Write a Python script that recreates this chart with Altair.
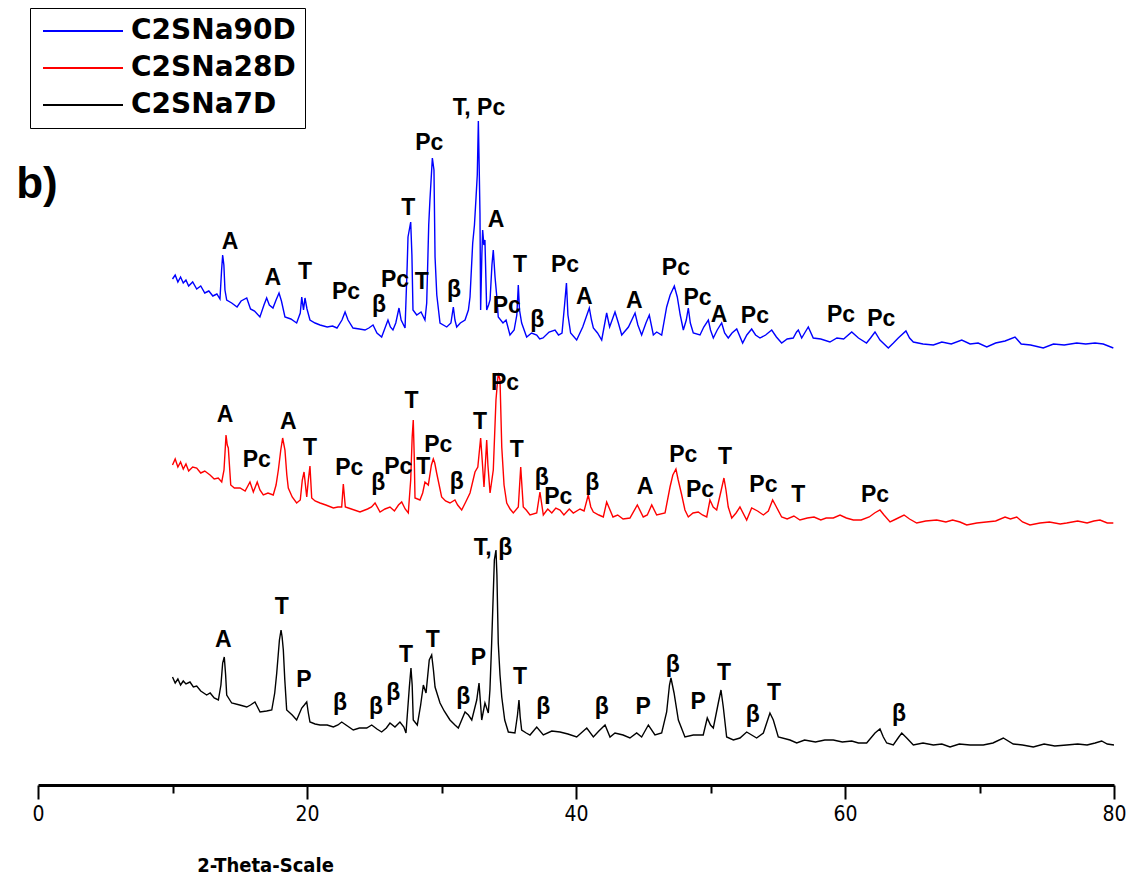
import altair as alt
import pandas as pd

series_names = ["C2SNa90D", "C2SNa28D", "C2SNa7D"]
series_colors = ["#0000ff", "#ff0000", "#000000"]

# ---- C2SNa90D (blue, top) ----
tt_90 = [10.0, 10.2, 10.4, 10.6, 10.8, 11.0, 11.2, 11.5, 11.8, 12.1, 12.4, 12.7, 13.0, 13.3, 13.53, 13.65, 13.73, 13.82, 13.9, 14.03,
         14.4, 14.8, 15.1, 15.52, 15.8, 16.1, 16.5, 16.8, 17.0, 17.2, 17.47, 17.7, 17.92, 18.1, 18.36, 18.8, 19.23, 19.5, 19.61, 19.74,
         19.85, 20.0, 20.22, 20.6, 20.97, 21.5, 21.9, 22.23, 22.6, 22.83, 23.05, 23.42, 23.9, 24.31, 24.6, 24.91, 25.2, 25.55, 25.8, 26.02,
         26.2, 26.39, 26.6, 26.84, 27.0, 27.29, 27.45, 27.51, 27.71, 27.8, 27.88, 28.16, 28.48, 28.77, 28.9, 29.05, 29.14, 29.32, 29.44, 29.52,
         29.65, 29.89, 30.39, 30.7, 30.88, 31.0, 31.13, 31.4, 31.75, 32.0, 32.12, 32.32, 32.45, 32.57, 32.66, 32.74, 32.8, 32.86, 32.91, 33.0,
         33.06, 33.15, 33.23, 33.36, 33.5, 33.61, 33.75, 33.85, 33.98, 34.1, 34.22, 34.57, 34.8, 35.09, 35.4, 35.6, 35.71, 35.8, 35.96, 36.33,
         36.7, 37.08, 37.3, 37.55, 38.0, 38.44, 38.7, 38.96, 39.15, 39.29,
         39.4, 39.6, 40.05, 40.5, 40.99, 41.15, 41.29, 41.6, 41.91, 42.28, 42.5, 42.9, 43.15, 43.4, 43.9, 44.39, 44.6, 44.88, 45.2, 45.45,
         45.75, 46.0, 46.37, 46.74, 47.0, 47.31, 47.53, 47.75, 47.98, 48.2, 48.35, 48.5, 48.72, 49.22, 49.5, 49.84, 50.0, 50.21, 50.5, 50.83,
         51.05, 51.32, 51.6, 51.95, 52.39, 52.7, 53.06, 53.35, 53.68, 54.1, 54.55, 54.9, 55.29, 55.7, 56.15, 56.4, 56.53, 56.78, 57.0, 57.27,
         57.64, 58.2, 58.88, 59.4, 59.9, 60.5, 61.0, 61.6, 61.9, 62.23, 62.6, 63.22, 63.6, 63.96, 64.53, 64.8, 65.08, 65.8, 66.57, 67.2,
         67.9, 68.68, 69.3, 69.9, 70.54, 71.2, 71.9, 72.64, 73.1, 73.8, 74.74, 75.5, 76.3, 77.23, 77.9, 78.59, 79.2, 79.95]
i_90 = [506, 510, 503, 508, 502, 505, 499, 503, 496, 499, 492, 494, 489, 491, 486, 515, 530, 520, 495, 485,
        482, 478, 484, 487, 476, 474, 468, 480, 487, 480, 477, 485, 492, 484, 468, 466, 462, 472, 488, 475,
        487, 476, 465, 462, 460, 458, 459, 457, 465, 473, 465, 457, 456, 455, 457, 460, 452, 448, 457, 465,
        458, 455, 462, 477, 465, 457, 520, 548, 563, 530, 475, 470, 473, 465, 482, 560, 585, 627, 615, 528,
        490, 462, 458, 462, 478, 465, 458, 462, 465, 475, 488, 542, 560, 588, 610, 664, 620, 572, 475, 530,
        555, 540, 545, 475, 480, 485, 520, 535, 508, 490, 468, 462, 465, 450, 455, 470, 500, 475, 462, 448,
        452, 450, 446, 447, 453, 455, 450, 452, 480, 502,
        470, 452, 445, 458, 477, 465, 457, 452, 445, 472, 458, 473, 462, 450, 458, 472, 460, 450, 462, 470,
        450, 453, 450, 478, 490, 499, 488, 470, 455, 465, 477, 462, 452, 450, 458, 465, 455, 447, 455, 462,
        452, 447, 452, 456, 442, 450, 456, 450, 447, 450, 455, 448, 442, 446, 447, 453, 455, 447, 452, 458,
        447, 446, 443, 447, 446, 453, 447, 442, 447, 453, 445, 437, 442, 447, 454, 447, 443, 441, 440, 443,
        441, 445, 441, 442, 438, 442, 444, 448, 441, 440, 437, 441, 440, 442, 441, 442, 441, 437]

# ---- C2SNa28D (red, middle) ----
tt_28 = [10.0, 10.2, 10.4, 10.6, 10.8, 11.0, 11.2, 11.5, 11.8, 12.1, 12.4, 12.79, 13.1, 13.4, 13.66, 13.83, 13.98, 14.07, 14.15, 14.33,
         14.6, 15.02, 15.4, 15.76, 16.01, 16.3, 16.5, 16.75, 17.1, 17.49, 17.7, 17.87, 18.05, 18.19, 18.36, 18.5, 18.61, 18.9, 19.23, 19.5,
         19.65, 19.78, 19.98, 20.1, 20.22, 20.35, 20.6, 20.97, 21.4, 21.96, 22.3, 22.58, 22.7, 22.85, 23.3, 23.94, 24.5, 24.8, 25.06, 25.43,
         25.8, 26.17, 26.5, 26.8, 27.04, 27.3, 27.53, 27.71, 27.82, 27.9, 27.97, 28.03, 28.4, 28.6, 28.77, 29.02, 29.25, 29.39, 29.5, 29.64,
         30.01, 30.3, 30.63, 31.0, 31.2, 31.5, 31.8, 32.12, 32.49, 32.7, 32.91, 33.0, 33.16, 33.3, 33.36, 33.45, 33.61, 33.85, 34.05, 34.22,
         34.35, 34.48, 34.65, 34.85, 35.1, 35.34, 35.71, 35.89, 36.08, 36.3, 36.58, 37.08, 37.32, 37.57, 37.9, 38.2, 38.5, 38.81, 39.1, 39.5,
         39.8, 40.3, 40.6, 40.91, 41.1, 41.29, 41.7, 42.03, 42.28, 42.75, 43.1, 43.5, 44.01, 44.56, 45.0, 45.3, 45.63, 46.0, 46.62, 46.99,
         47.2, 47.43, 47.6, 47.86, 48.1, 48.35, 48.7, 49.09, 49.4, 49.72, 49.96, 50.2, 50.46, 50.8, 51.0, 51.15, 51.32, 51.58, 51.9, 52.19,
         52.69, 53.06, 53.5, 53.93, 54.3, 54.62, 54.9, 55.29, 55.7, 56.2, 56.65, 57.2, 57.7, 58.2, 58.6, 59.13, 59.63, 60.1, 60.62, 61.2,
         61.8, 62.2, 62.6, 62.9, 63.35, 63.8, 64.39, 64.8, 65.33, 66.0, 66.82, 67.5, 68.0, 68.55, 69.05, 69.8, 70.5, 71.2, 71.9, 72.3,
         72.77, 73.2, 73.75, 74.5, 75.2, 76.0, 76.48, 77.3, 78.0, 78.5, 78.96, 79.5, 79.95]
i_28 = [320, 326, 318, 323, 316, 321, 314, 318, 317, 312, 314, 310, 306, 307, 303, 315, 350, 340, 337, 300,
        297, 297, 294, 303, 293, 303, 295, 290, 292, 290, 300, 315, 335, 347, 335, 310, 297, 288, 282, 285,
        305, 313, 288, 305, 319, 287, 284, 282, 280, 277, 278, 278, 301, 278, 276, 273, 276, 278, 282, 273,
        276, 278, 274, 280, 283, 276, 272, 305, 348, 365, 330, 287, 285, 292, 303, 300, 320, 326, 322, 312,
        288, 284, 282, 285, 280, 275, 283, 292, 313, 318, 347, 330, 298, 330, 345, 320, 292, 315, 385, 412,
        405, 338, 300, 282, 276, 272, 278, 318, 278, 275, 270, 272, 293, 270, 276, 272, 277, 275, 270, 276,
        272, 276, 274, 290, 278, 273, 270, 268, 283, 268, 270, 266, 267, 280, 268, 270, 280, 270, 272, 298,
        310, 316, 305, 290, 275, 268, 272, 273, 270, 268, 285, 278, 275, 295, 307, 295, 278, 267, 272, 278,
        265, 277, 274, 270, 274, 285, 278, 268, 266, 269, 265, 267, 268, 265, 267, 267, 270, 267, 265, 265,
        268, 272, 275, 270, 263, 266, 270, 266, 262, 264, 265, 263, 265, 263, 260, 262, 263, 264, 268, 266,
        268, 263, 260, 262, 263, 261, 262, 264, 262, 264, 265, 262, 262]

# ---- C2SNa7D (black, bottom) ----
tt_7 = [10.0, 10.2, 10.4, 10.6, 10.8, 11.0, 11.3, 11.55, 11.8, 12.1, 12.54, 12.8, 13.1, 13.41, 13.6, 13.73, 13.85, 13.95, 14.03, 14.4,
        15.0, 15.52, 15.8, 16.13, 16.51, 17.0, 17.38, 17.6, 17.75, 17.95, 18.07, 18.15, 18.24, 18.35, 18.49, 18.9, 19.23, 19.61, 19.8, 19.98,
        20.1, 20.22, 20.6, 20.97, 21.5, 21.96, 22.3, 22.58, 22.9, 23.44, 23.9, 24.44, 24.81, 25.2, 25.55, 25.9, 26.17, 26.54, 26.91, 27.2,
        27.36, 27.61, 27.73, 27.82, 27.9, 28.2, 28.45, 28.65, 28.85, 29.09, 29.27, 29.4, 29.52, 29.89, 30.2, 30.63, 31.0, 31.25, 31.5, 31.75,
        32.0, 32.25, 32.62, 32.79, 32.99, 33.23, 33.48, 33.6, 33.73, 33.93, 34.05, 34.12, 34.22, 34.35, 34.48, 34.7, 34.97, 35.46, 35.65, 35.76,
        35.85, 35.96, 36.3, 36.58, 37.08, 37.57, 38.2, 38.81, 39.4, 40.05, 40.8, 41.29, 41.7, 42.16, 42.53, 42.9, 43.5, 44.01, 44.51, 44.88,
        45.38, 45.87, 46.37, 46.74, 46.95, 47.06, 47.29, 47.61, 48.1, 48.72, 49.46, 49.76, 50.0, 50.21, 50.58, 50.78, 50.95, 51.2, 51.7, 52.19,
        52.69, 53.43, 53.93, 54.2, 54.42, 54.67, 55.04, 55.91, 56.41, 57.0, 57.8, 58.5, 59.13, 59.8, 60.5, 61.0, 61.61, 62.23, 62.6, 62.85,
        63.1, 63.59, 64.0, 64.22, 64.59, 65.08, 65.8, 66.57, 67.2, 67.81, 68.5, 69.3, 70.28, 71.0, 71.77, 72.51, 73.2, 74.0, 74.8, 75.6,
        76.48, 77.3, 78.0, 78.6, 79.08, 79.5, 80.0]
i_7 = [108, 102, 106, 100, 104, 101, 103, 98, 99, 94, 90, 92, 87, 85, 100, 122, 128, 110, 90, 82,
       80, 78, 80, 83, 73, 74, 75, 92, 112, 145, 155, 148, 135, 105, 75, 70, 65, 77, 80, 83,
       72, 63, 61, 60, 60, 58, 60, 63, 60, 55, 57, 57, 60, 56, 53, 57, 62, 58, 63, 58,
       52, 98, 117, 100, 65, 60, 80, 100, 92, 125, 130, 115, 98, 82, 74, 65, 60, 57, 65, 73,
       70, 65, 85, 102, 65, 82, 72, 95, 142, 225, 235, 210, 142, 110, 88, 65, 53, 52, 70, 85,
       68, 55, 52, 50, 58, 50, 54, 53, 51, 48, 57, 48, 54, 60, 48, 52, 50, 47, 52, 48,
       60, 50, 52, 73, 100, 107, 92, 65, 48, 50, 50, 67, 60, 57, 82, 95, 78, 48, 45, 47,
       53, 47, 52, 63, 72, 65, 48, 45, 42, 45, 43, 45, 45, 43, 44, 42, 42, 52, 56, 48,
       42, 40, 48, 52, 47, 40, 42, 40, 41, 38, 41, 40, 40, 42, 47, 41, 40, 38, 41, 39,
       40, 41, 40, 42, 44, 41, 40]

# ---- phase labels ----
lab_90_tt = [14.28, 17.45, 19.85, 22.9, 25.35, 26.54, 28.53, 27.53, 29.09, 30.93, 32.79, 34.05, 34.85, 35.84, 37.12,
             39.18, 40.62, 44.33, 47.43, 49.03, 50.63, 53.3, 59.7, 62.7]
lab_90_i = [543, 507, 513, 493, 480, 505, 503, 577, 642, 495, 677, 565, 479, 520, 465,
            520, 488, 484, 517, 487, 470, 469, 470, 466]
lab_90_txt = ["A", "A", "T", "Pc", "β", "Pc", "T", "T", "Pc", "β", "T, Pc", "A", "Pc", "T", "β",
              "Pc", "A", "A", "Pc", "Pc", "A", "Pc", "Pc", "Pc"]

lab_28_tt = [13.9, 16.26, 18.61, 20.22, 23.14, 25.3, 26.79, 28.65, 27.78, 29.76, 31.13, 32.86, 34.72, 35.59, 37.45,
             38.68, 41.21, 45.13, 47.98, 49.22, 51.08, 53.93, 56.53, 62.23]
lab_28_i = [370, 325, 363, 337, 317, 302, 318, 318, 384, 340, 303, 363, 402, 335, 307,
            288, 302, 298, 330, 295, 328, 300, 290, 290]
lab_28_txt = ["A", "Pc", "A", "T", "Pc", "β", "Pc", "T", "T", "Pc", "β", "T", "Pc", "T", "β",
              "Pc", "β", "A", "Pc", "Pc", "T", "Pc", "T", "Pc"]

lab_7_tt = [13.78, 18.12, 19.78, 22.45, 25.13, 26.42, 27.36, 29.35, 31.62, 32.74, 33.83, 35.84, 37.57, 41.91,
            45.0, 47.19, 49.09, 51.0, 53.14, 54.72, 64.01]
lab_7_i = [145, 178, 105, 82, 78, 92, 130, 145, 88, 127, 237, 108, 78, 78,
           78, 120, 83, 112, 70, 92, 71]
lab_7_txt = ["A", "T", "P", "β", "β", "β", "T", "T", "β", "P", "T, β", "T", "β", "β",
             "P", "β", "P", "T", "β", "T", "β"]

x_major = [0, 20, 40, 60, 80]
x_minor = [10, 30, 50, 70]

# ---- build tables ----
frames = []
for name, tt, ii in zip(series_names, [tt_90, tt_28, tt_7], [i_90, i_28, i_7]):
    frames.append(pd.DataFrame({"two_theta": tt, "intensity": ii, "sample": name}))
lines_df = pd.concat(frames, ignore_index=True)

labels_df = pd.concat([
    pd.DataFrame({"two_theta": lab_90_tt, "intensity": lab_90_i, "phase": lab_90_txt}),
    pd.DataFrame({"two_theta": lab_28_tt, "intensity": lab_28_i, "phase": lab_28_txt}),
    pd.DataFrame({"two_theta": lab_7_tt, "intensity": lab_7_i, "phase": lab_7_txt}),
], ignore_index=True)

xscale = alt.Scale(domain=[0, 80], nice=False, zero=False)
yscale = alt.Scale(domain=[0, 780], nice=False, zero=False)

axis_font = "Liberation Sans Narrow, DejaVu Sans Condensed, Liberation Sans, sans-serif"

lines = alt.Chart(lines_df).mark_line(strokeWidth=1.4, interpolate="linear").encode(
    x=alt.X("two_theta:Q", scale=xscale,
            axis=alt.Axis(values=x_major, format="d", title="2-Theta-Scale", orient="bottom",
                          domainColor="black", domainWidth=3, tickColor="black", tickWidth=2,
                          tickSize=14, labelFont=axis_font, labelFontSize=21, labelColor="black",
                          labelPadding=4, grid=False, titleFont=axis_font, titleFontSize=20,
                          titleFontWeight="bold", titleColor="black", titleX=227, titleY=80,
                          titleAlign="center", titleBaseline="middle", labelFlush=False)),
    y=alt.Y("intensity:Q", scale=yscale, axis=None),
    color=alt.Color("sample:N",
                    scale=alt.Scale(domain=series_names, range=series_colors),
                    legend=alt.Legend(orient="none", legendX=-8, legendY=3, title=None,
                                      symbolType="M-4,0H4", symbolSize=400, symbolStrokeWidth=2,
                                      symbolOffset=30, labelOffset=34,
                                      labelFont="DejaVu Sans", labelFontSize=28, labelFontWeight="bold",
                                      labelColor="black", strokeColor="black",
                                      fillColor="white", padding=9, rowPadding=9, labelLimit=400)),
    detail="sample:N",
)

labels = alt.Chart(labels_df).mark_text(
    font="Liberation Sans", fontSize=23, fontWeight="bold", color="black",
    align="center", baseline="middle"
).encode(
    x=alt.X("two_theta:Q", scale=xscale,
            axis=alt.Axis(values=x_minor, labels=False, domain=False, title=None, grid=False,
                          orient="bottom", offset=0,
                          tickColor="black", tickWidth=2, tickSize=8)),
    y=alt.Y("intensity:Q", scale=yscale, axis=None),
    text="phase:N",
)

panel_df = pd.DataFrame({"tag": ["b)"]})
panel = alt.Chart(panel_df).mark_text(
    font="Liberation Sans", fontSize=44, fontWeight="bold", color="black",
    align="center", baseline="middle"
).encode(x=alt.value(-1), y=alt.value(180), text="tag:N")

chart = alt.layer(lines, labels, panel).resolve_axis(x="independent").properties(
    width=1076, height=780,
    autosize=alt.AutoSizeParams(type="none"),
    padding={"left": 38, "top": 5, "right": 23, "bottom": 96},
    background="white",
).configure_view(stroke=None)

chart.save("out.html", embed_options={"renderer": "svg", "actions": False})
